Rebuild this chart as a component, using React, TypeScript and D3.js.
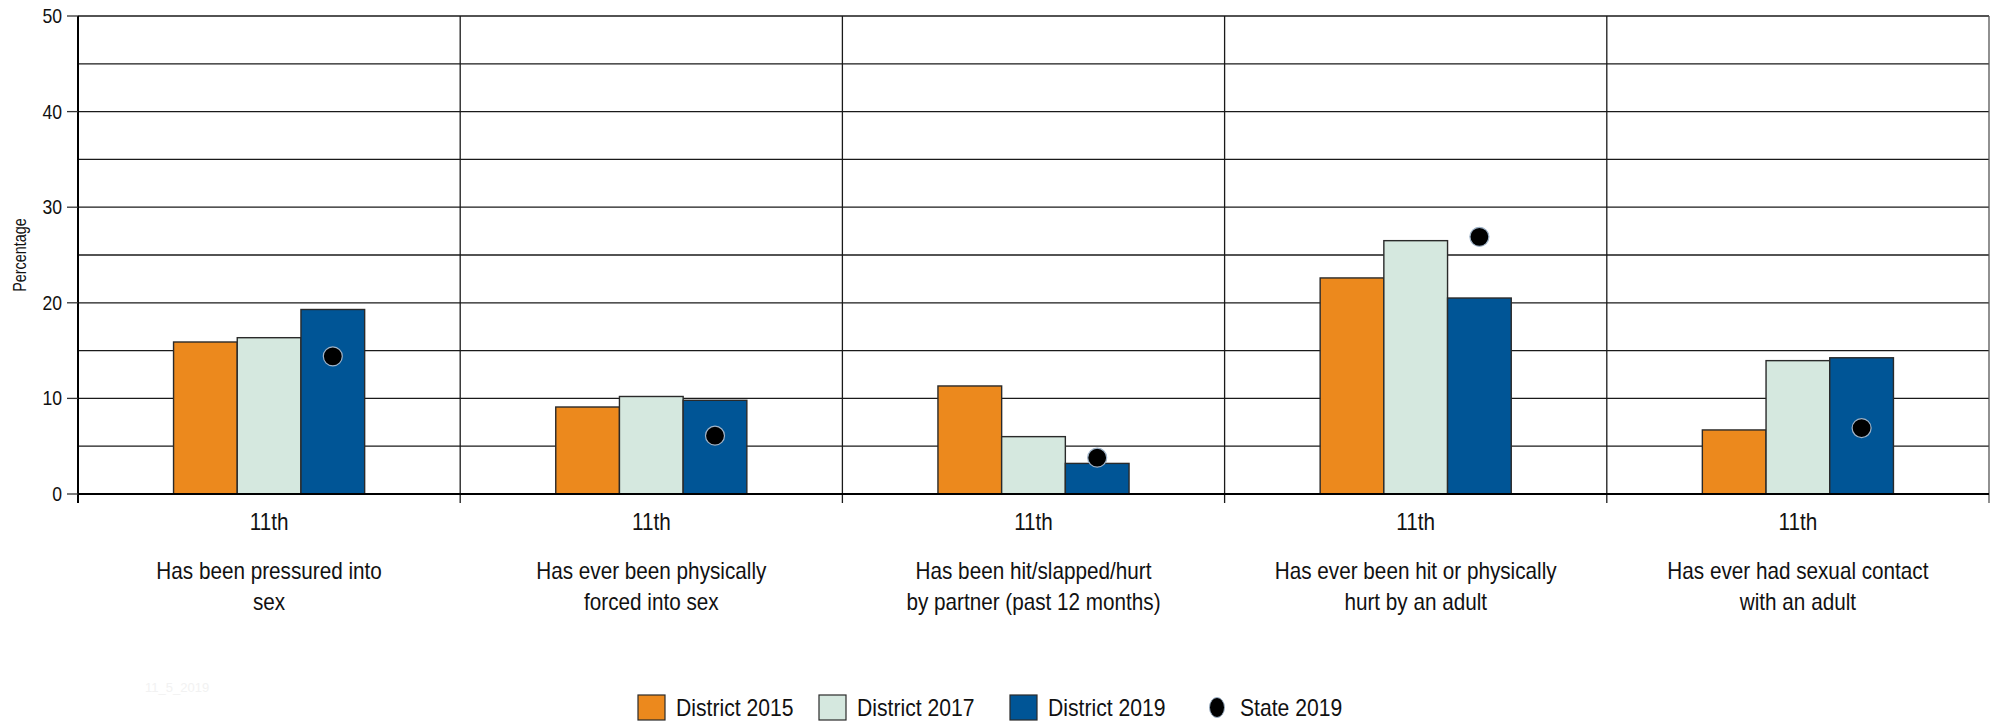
import React from "react";
import * as d3 from "d3";

const categories = [
  "Has been pressured into\nsex",
  "Has ever been physically\nforced into sex",
  "Has been hit/slapped/hurt\nby partner (past 12 months)",
  "Has ever been hit or physically\nhurt by an adult",
  "Has ever had sexual contact\nwith an adult",
];
const gradeLabels = ["11th", "11th", "11th", "11th", "11th"];
const seriesNames = ["District 2015", "District 2017", "District 2019"];
const district2015 = [15.9, 9.1, 11.3, 22.6, 6.7];
const district2017 = [16.35, 10.2, 6.0, 26.5, 13.95];
const district2019 = [19.3, 9.8, 3.2, 20.5, 14.25];
const state2019 = [14.4, 6.1, 3.8, 26.9, 6.9];
const yTicks = [0, 10, 20, 30, 40, 50];
const yGrid = [0, 5, 10, 15, 20, 25, 30, 35, 40, 45, 50];
const colors = ["#EC891D", "#D5E8DF", "#005596"];
const stateLabel = "State 2019";

const FONT = "'Liberation Sans', Arial, sans-serif";

function NText({ x, y, sx = 0.9, rotate = 0, anchor = "start", size, children, fill = "#111" }: any) {
  return (
    <g transform={`translate(${x},${y}) rotate(${rotate}) scale(${sx},1)`}>
      <text x={0} y={0} textAnchor={anchor} fontSize={size} fill={fill}>{children}</text>
    </g>
  );
}

export default function App() {
  const W = 2000, H = 723;
  const left = 78, right = 1989, top = 16, bottom = 494;
  const x = d3.scaleBand<number>().domain(d3.range(categories.length)).range([left, right]).padding(0);
  const y = d3.scaleLinear().domain([0, 50]).range([bottom, top]);
  const inner = d3.scaleBand<number>().domain([0, 1, 2]).range([0, x.bandwidth()]).paddingOuter(1.5).paddingInner(0);
  const series = [district2015, district2017, district2019];

  const legendSw = [638, 819, 1010];
  const legendTx = [676, 857, 1048];

  return (
    <svg width={W} height={H} style={{ position: "absolute", left: 0, top: 0, background: "#fff" }} fontFamily={FONT}>
      <rect x={0} y={0} width={W} height={H} fill="#fff" />
      {yGrid.map((t) => (
        <line key={"g" + t} x1={left} x2={right} y1={y(t)} y2={y(t)} stroke="#1a1a1a" strokeWidth={1.3} />
      ))}
      {d3.range(categories.length + 1).map((i) => {
        const xx = i < categories.length ? x(i)! : right;
        return (
          <line key={"s" + i} x1={xx} x2={xx} y1={top} y2={bottom + 9}
            stroke={i === categories.length ? "#555" : "#1a1a1a"} strokeWidth={i === 0 ? 2 : 1.3} />
        );
      })}
      {categories.map((_, ci) =>
        series.map((s, si) => (
          <rect key={`b${ci}-${si}`} x={x(ci)! + inner(si)!} y={y(s[ci])} width={inner.bandwidth()}
            height={y(0) - y(s[ci])} fill={colors[si]} stroke="#2a2a2a" strokeWidth={1.4} />
        ))
      )}
      {state2019.map((v, ci) => (
        <circle key={"d" + ci} cx={x(ci)! + inner(2)! + inner.bandwidth() / 2} cy={y(v)} r={9.5}
          fill="#000" stroke="#9fb3c8" strokeWidth={1.2} />
      ))}
      <line x1={left} x2={right} y1={bottom} y2={bottom} stroke="#000" strokeWidth={2.2} />
      <line x1={left} x2={left} y1={top} y2={bottom + 9} stroke="#000" strokeWidth={2} />
      {yTicks.map((t) => (
        <g key={"t" + t}>
          <line x1={left - 11} x2={left} y1={y(t)} y2={y(t)} stroke="#333" strokeWidth={1.3} />
          <NText x={left - 16} y={y(t) + 7} anchor="end" size={20} sx={0.88}>{t}</NText>
        </g>
      ))}
      <NText x={26} y={(top + bottom) / 2} rotate={-90} anchor="middle" size={18} sx={0.8}>Percentage</NText>
      {categories.map((c, ci) => {
        const cx = x(ci)! + x.bandwidth() / 2;
        return (
          <g key={"c" + ci}>
            <NText x={cx} y={530} anchor="middle" size={23} sx={0.9}>{gradeLabels[ci]}</NText>
            {c.split("\n").map((line, li) => (
              <NText key={li} x={cx} y={579 + li * 31} anchor="middle" size={23} sx={0.9}>{line}</NText>
            ))}
          </g>
        );
      })}
      <text x={145} y={692} fontSize={13} fill="#f2f2f2">11_5_2019</text>
      {seriesNames.map((name, i) => (
        <g key={"l" + i}>
          <rect x={legendSw[i]} y={695} width={27} height={25} fill={colors[i]} stroke="#2a2a2a" strokeWidth={1.2} />
          <NText x={legendTx[i]} y={716} size={23} sx={0.92}>{name}</NText>
        </g>
      ))}
      <ellipse cx={1217} cy={707.5} rx={7.5} ry={10} fill="#000" stroke="#9fb3c8" strokeWidth={1} />
      <NText x={1240} y={716} size={23} sx={0.92}>{stateLabel}</NText>
    </svg>
  );
}
